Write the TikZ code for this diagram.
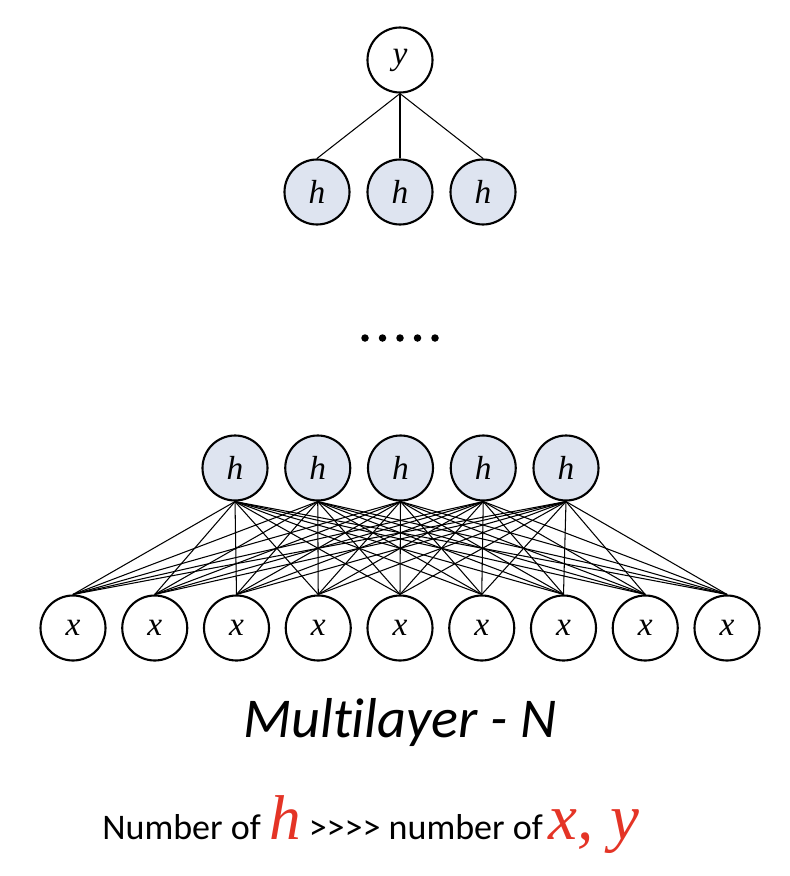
\documentclass[tikz,border=0pt]{standalone}
\usepackage{fontspec}
\setmainfont{Carlito}[Ligatures={TeXOff,NoCommon}]
\newfontfamily\varfont{Liberation Serif}
\usetikzlibrary{positioning}
\definecolor{hidfill}{RGB}{222,228,240}
\definecolor{notered}{RGB}{228,52,38}
\newcommand{\var}[1]{{\varfont\itshape #1}}

\begin{document}
\begin{tikzpicture}[
  unit/.style={draw, circle, line width=1.2pt, minimum size=1.3cm, inner sep=0pt,
               font=\fontsize{19}{19}\selectfont},
  hid/.style={unit, fill=hidfill},
  link/.style={line width=0.6pt}
]
  \useasboundingbox (0,0) rectangle (15.8,-17.52);

  % output and top hidden layer
  \node[unit] (y) at (8,-1.2) {\var{y}};
  \foreach \i/\xx in {1/6.34, 2/8, 3/9.66}
    \node[hid] (t\i) at (\xx,-3.84) {\var{h}};
  \foreach \i in {1,2,3}
    \draw[link] (y.south) -- (t\i.north);

  % dots
  \foreach \k in {0,...,4}
    \fill (7.3+0.35*\k,-6.76) circle (0.075);

  % bottom hidden layer and inputs
  \foreach \i in {1,...,5}
    \node[hid] (h\i) at (4.7+1.655*\i-1.655,-9.36) {\var{h}};
  \foreach \j in {1,...,9}
    \node[unit] (x\j) at (1.46+1.635*\j-1.635,-12.56) {\var{x}};
  \foreach \i in {1,...,5}
    \foreach \j in {1,...,9}
      \draw[link] (h\i.south) -- (x\j.north);

  % captions
  \node[anchor=base, font=\fontsize{32}{32}\selectfont\itshape] (cap) at (8,-14.74)
    {Multilayer - N};
  \node[anchor=base west, font=\fontsize{20.5}{20.5}\selectfont, inner sep=0pt] (note) at (2.04,-16.78)
    {Number of \textcolor{notered}{\fontsize{36}{36}\selectfont\var{h}} >>>> number of\,\textcolor{notered}{\fontsize{37}{37}\selectfont\var{x, y}}};
\end{tikzpicture}
\end{document}
